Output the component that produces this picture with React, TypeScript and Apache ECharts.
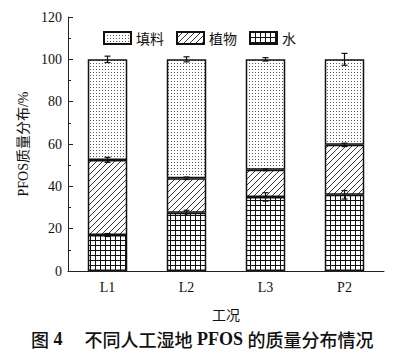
import React, { useEffect, useRef } from "react";
import * as echarts from "echarts";

const categories = ["L1", "L2", "L3", "P2"];
const waterValues = [17, 27.5, 35, 36];
const plantValues = [35.5, 16.3, 12.8, 23.6];
const fillerValues = [47.5, 56.2, 52.2, 40.4];
const waterErr = [0.7, 1.2, 2.0, 2.0];
const plantErr = [1.2, 0.6, 0.4, 0.8];
const totalErr = [1.5, 1.2, 0.8, 2.8];
const legendNames = ["填料", "植物", "水"];

function makeCanvas(w: number, h: number, draw: (c: CanvasRenderingContext2D) => void) {
  const cv = document.createElement("canvas");
  cv.width = w;
  cv.height = h;
  const ctx = cv.getContext("2d")!;
  ctx.fillStyle = "#ffffff";
  ctx.fillRect(0, 0, w, h);
  draw(ctx);
  return cv;
}

export default function App() {
  const ref = useRef<HTMLDivElement>(null);
  useEffect(() => {
    if (!ref.current) return;
    const chart = echarts.init(ref.current, undefined, { renderer: "svg" });

    const dots = makeCanvas(3, 3, (c) => {
      c.fillStyle = "#5a5a5a";
      c.fillRect(0, 0, 1, 1);
    });
    const diag = makeCanvas(6, 6, (c) => {
      c.strokeStyle = "#222";
      c.lineWidth = 0.9;
      c.beginPath();
      c.moveTo(-1, 7);
      c.lineTo(7, -1);
      c.stroke();
    });
    const grid = makeCanvas(5, 5, (c) => {
      c.fillStyle = "#111";
      c.fillRect(0, 0, 5, 1);
      c.fillRect(0, 0, 1, 5);
    });

    const cum1 = waterValues;
    const cum2 = waterValues.map((v, i) => v + plantValues[i]);
    const cum3 = cum2.map((v, i) => v + fillerValues[i]);
    const errData: number[][] = [];
    categories.forEach((_, i) => {
      errData.push([i, cum1[i], waterErr[i]]);
      errData.push([i, cum2[i], plantErr[i]]);
      errData.push([i, cum3[i], totalErr[i]]);
    });

    const serif = "'Liberation Serif', 'Noto Sans CJK SC', serif";
    const cjk = "'Noto Sans CJK SC', sans-serif";
    const barStyle = (img: HTMLCanvasElement) => ({
      color: { image: img, repeat: "repeat" } as any,
      borderColor: "#111",
      borderWidth: 1.5,
    });

    chart.setOption({
      animation: false,
      grid: { left: 68, right: 20, top: 17, bottom: 82 },
      title: {
        text: "{c|图}{n| 4}{s|　 }{c|不同人工湿地}{n| PFOS }{c|的质量分布情况}",
        left: 26,
        top: 325,
        textStyle: {
          rich: {
            c: { fontSize: 18, fontWeight: 500, color: "#111", fontFamily: cjk },
            n: { fontSize: 18, fontWeight: "bold", color: "#111", fontFamily: serif },
            s: { fontSize: 18, color: "#111", fontFamily: cjk },
          },
        },
      },
      legend: {
        data: legendNames,
        left: 98,
        top: 26,
        itemWidth: 27,
        itemHeight: 12,
        itemGap: 12,
        icon: "rect",
        textStyle: { fontSize: 14, color: "#111", fontFamily: "'Noto Sans CJK SC', serif" },
      },
      xAxis: {
        type: "category",
        data: categories,
        name: "工况",
        nameLocation: "middle",
        nameGap: 36,
        nameTextStyle: { fontSize: 14, color: "#111", fontFamily: "'Noto Sans CJK SC', serif" },
        axisLine: { lineStyle: { color: "#222", width: 1 } },
        axisTick: { show: false },
        axisLabel: { fontSize: 14, color: "#111", fontFamily: serif, margin: 9 },
      },
      yAxis: {
        type: "value",
        min: 0,
        max: 120,
        interval: 20,
        name: "PFOS质量分布/%",
        nameLocation: "middle",
        nameGap: 35,
        nameTextStyle: { fontSize: 14, color: "#111", fontFamily: serif },
        axisLine: { show: true, lineStyle: { color: "#222", width: 1 } },
        axisTick: { show: true, inside: true, length: 5, lineStyle: { color: "#222" } },
        minorTick: { show: true, splitNumber: 2, length: 3, lineStyle: { color: "#222" } },
        splitLine: { show: false },
        axisLabel: { fontSize: 14, color: "#111", fontFamily: serif, margin: 6 },
      },
      series: [
        { name: "水", type: "bar", stack: "s", barWidth: "50%", data: waterValues, itemStyle: barStyle(grid) },
        { name: "植物", type: "bar", stack: "s", barWidth: "50%", data: plantValues, itemStyle: barStyle(diag) },
        { name: "填料", type: "bar", stack: "s", barWidth: "50%", data: fillerValues, itemStyle: barStyle(dots) },
        {
          type: "custom",
          data: errData,
          z: 10,
          renderItem: (params: any, api: any) => {
            const x = api.value(0);
            const v = api.value(1);
            const e = api.value(2);
            const top = api.coord([x, v + e]);
            const bot = api.coord([x, v - e]);
            const hw = 3;
            const st = { stroke: "#111", lineWidth: 1.2 };
            return {
              type: "group",
              children: [
                { type: "line", shape: { x1: top[0], y1: top[1], x2: bot[0], y2: bot[1] }, style: st },
                { type: "line", shape: { x1: top[0] - hw, y1: top[1], x2: top[0] + hw, y2: top[1] }, style: st },
                { type: "line", shape: { x1: bot[0] - hw, y1: bot[1], x2: bot[0] + hw, y2: bot[1] }, style: st },
              ],
            };
          },
        },
      ],
    } as any);
    return () => chart.dispose();
  }, []);
  return <div ref={ref} style={{ width: 404, height: 353, position: "absolute", left: 0, top: 0 }} />;
}
